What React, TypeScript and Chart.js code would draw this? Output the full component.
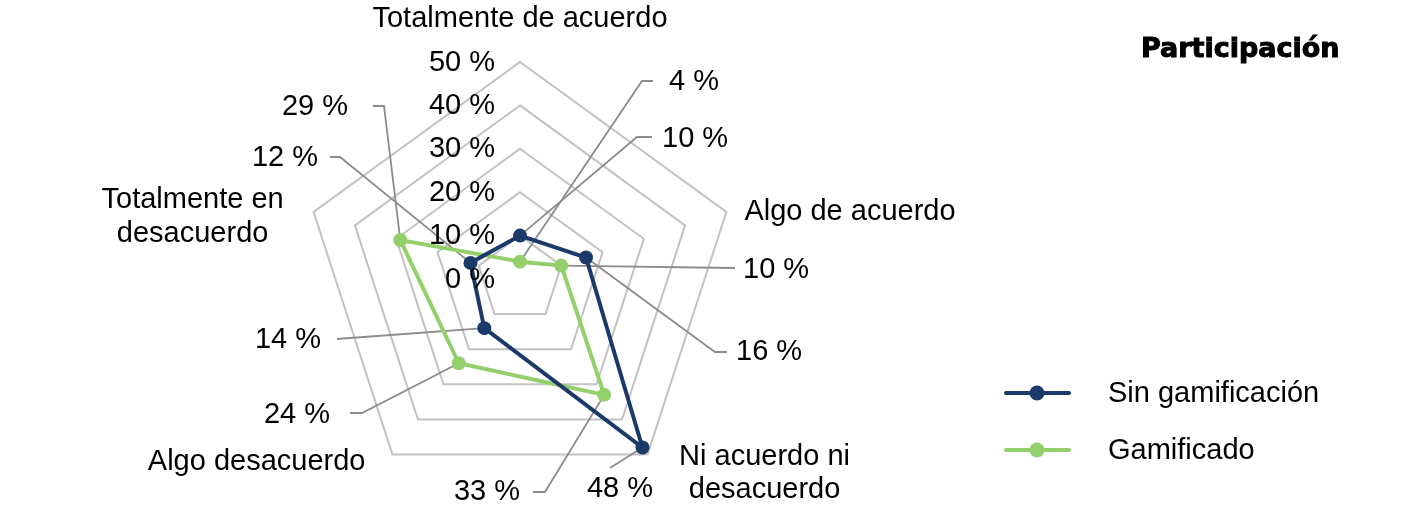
import React, { useEffect, useRef } from "react";
import { Chart, registerables } from "chart.js";

Chart.register(...registerables);

// ---------- data ----------
const categories: string[][] = [
  ["Totalmente de acuerdo"],
  ["Algo de acuerdo"],
  ["Ni acuerdo ni", "desacuerdo"],
  ["Algo desacuerdo"],
  ["Totalmente en", "desacuerdo"],
];
const seriesNames = ["Sin gamificación", "Gamificado"];
const sinGamificacion = [10, 16, 48, 14, 12];
const gamificado = [4, 10, 33, 24, 29];
const tickValues = [0, 10, 20, 30, 40, 50];
const legendTitle = "Participación";

// ---------- styles ----------
const BLUE = "#1b3a6a";
const GREEN = "#93cf6b";
const GRID = "#c2c2c2";
const LEADER = "#8c8c8c";
const FONT = "'Liberation Sans', Arial, sans-serif";
const FS = 29;
const TY = 1.5; // baseline nudge for canvas 'middle'

// category label placement, offset from outer vertex of each axis
const catLayout = [
  { dx: 0, dy: -45, align: "center", lh: 33 },
  { dx: 18, dy: -1, align: "left", lh: 33 },
  { dx: 117, dy: 1, align: "center", lh: 33 },
  { dx: -27, dy: 6, align: "right", lh: 33 },
  { dx: -121, dy: -13, align: "center", lh: 34 },
];

// callout placement relative to the scale centre: elbow, end of leader, text anchor
type Callout = { elbow: [number, number]; end: [number, number]; text: [number, number]; align: string };
const calloutsSin: Callout[] = [
  { elbow: [117, -142], end: [132, -142], text: [142, -142], align: "left" },
  { elbow: [195, 73], end: [207, 73], text: [216, 71], align: "left" },
  { elbow: [90, 189], end: [90, 189], text: [100, 208], align: "center" },
  { elbow: [-170, 59], end: [-183, 60], text: [-199, 59], align: "right" },
  { elbow: [-180, -122], end: [-190, -122], text: [-202, -123], align: "right" },
];
const calloutsGam: Callout[] = [
  { elbow: [122, -198], end: [133, -198], text: [149, -199], align: "left" },
  { elbow: [215, -11], end: [215, -11], text: [223, -11], align: "left" },
  { elbow: [25, 213], end: [13, 213], text: [0, 211], align: "right" },
  { elbow: [-158, 134], end: [-170, 134], text: [-190, 134], align: "right" },
  { elbow: [-136, -173], end: [-147, -173], text: [-172, -174], align: "right" },
];
const callouts = [calloutsSin, calloutsGam];

const overlayPlugin = {
  id: "overlay",
  beforeDatasetsDraw(chart: any) {
    const scale = chart.scales.r;
    const ctx = chart.ctx as CanvasRenderingContext2D;
    const cx = scale.xCenter;
    const cy = scale.yCenter;
    ctx.save();
    ctx.strokeStyle = LEADER;
    ctx.lineWidth = 1.8;
    chart.data.datasets.forEach((_ds: any, di: number) => {
      const meta = chart.getDatasetMeta(di);
      meta.data.forEach((pt: any, i: number) => {
        const c = callouts[di][i];
        ctx.beginPath();
        ctx.moveTo(pt.x, pt.y);
        ctx.lineTo(cx + c.elbow[0], cy + c.elbow[1]);
        ctx.lineTo(cx + c.end[0], cy + c.end[1]);
        ctx.stroke();
      });
    });
    ctx.restore();
  },
  afterDraw(chart: any) {
    const scale = chart.scales.r;
    const ctx = chart.ctx as CanvasRenderingContext2D;
    const cx = scale.xCenter;
    const cy = scale.yCenter;
    ctx.save();
    ctx.fillStyle = "#000";
    ctx.font = `${FS}px ${FONT}`;
    ctx.textBaseline = "middle";

    // tick labels
    ctx.textAlign = "right";
    tickValues.forEach((v) => {
      const p = scale.getPointPositionForValue(0, v);
      ctx.fillText(`${v} %`, cx - 25, p.y - 1 + TY);
    });

    // category labels
    categories.forEach((lines, i) => {
      const p = scale.getPointPosition(i, scale.drawingArea);
      const L = catLayout[i];
      ctx.textAlign = L.align as CanvasTextAlign;
      lines.forEach((line, k) => {
        ctx.fillText(line, p.x + L.dx, p.y + L.dy + k * L.lh + TY);
      });
    });

    // data labels
    chart.data.datasets.forEach((ds: any, di: number) => {
      ds.data.forEach((v: number, i: number) => {
        const c = callouts[di][i];
        ctx.textAlign = c.align as CanvasTextAlign;
        ctx.fillText(`${v} %`, cx + c.text[0], cy + c.text[1] + TY);
      });
    });

    // legend title (heavy weight)
    const W = chart.width;
    ctx.textAlign = "right";
    ctx.font = `bold 27px 'DejaVu Sans', ${FONT}`;
    ctx.strokeStyle = "#000";
    ctx.lineWidth = 1;
    ctx.lineJoin = "miter";
    ctx.strokeText(legendTitle, W - 85.5, 48 + TY);
    ctx.fillText(legendTitle, W - 85.5, 48 + TY);

    // legend items
    ctx.font = `${FS}px ${FONT}`;
    ctx.textAlign = "left";
    const colors = [BLUE, GREEN];
    const ys = [393, 450];
    seriesNames.forEach((name, i) => {
      const y = ys[i];
      ctx.strokeStyle = colors[i];
      ctx.fillStyle = colors[i];
      ctx.lineWidth = 4;
      ctx.lineCap = "round";
      ctx.beginPath();
      ctx.moveTo(1006, y);
      ctx.lineTo(1069, y);
      ctx.stroke();
      ctx.beginPath();
      ctx.arc(1037, y, 7.5, 0, Math.PI * 2);
      ctx.fill();
      ctx.fillStyle = "#000";
      ctx.fillText(name, 1108, y - 0.5 + TY);
    });
    ctx.restore();
  },
};

export default function App() {
  const ref = useRef<HTMLCanvasElement | null>(null);
  useEffect(() => {
    if (!ref.current) return;
    const chart = new Chart(ref.current, {
      type: "radar",
      data: {
        labels: categories.map((c) => c.join(" ")),
        datasets: [
          {
            label: seriesNames[0],
            data: sinGamificacion,
            borderColor: BLUE,
            backgroundColor: BLUE,
            pointBackgroundColor: BLUE,
            pointBorderWidth: 0,
            pointRadius: 7,
            borderWidth: 4,
            fill: false,
          },
          {
            label: seriesNames[1],
            data: gamificado,
            borderColor: GREEN,
            backgroundColor: GREEN,
            pointBackgroundColor: GREEN,
            pointBorderWidth: 0,
            pointRadius: 7,
            borderWidth: 4,
            fill: false,
          },
        ],
      },
      options: {
        animation: false,
        responsive: true,
        maintainAspectRatio: false,
        layout: { padding: { left: 220, right: 605, top: 62, bottom: 14 } },
        elements: { line: { tension: 0 } },
        plugins: {
          legend: { display: false },
          title: { display: false },
          tooltip: { enabled: false },
        },
        scales: {
          r: {
            min: 0,
            max: 50,
            ticks: { stepSize: 10, display: false },
            grid: { color: GRID, lineWidth: 2 },
            angleLines: { display: false },
            pointLabels: { display: false },
          },
        },
      },
      plugins: [overlayPlugin],
    });
    return () => chart.destroy();
  }, []);
  return (
    <div style={{ position: "absolute", left: 0, top: 0, width: 1425, height: 510, background: "#fff" }}>
      <canvas ref={ref} />
    </div>
  );
}
